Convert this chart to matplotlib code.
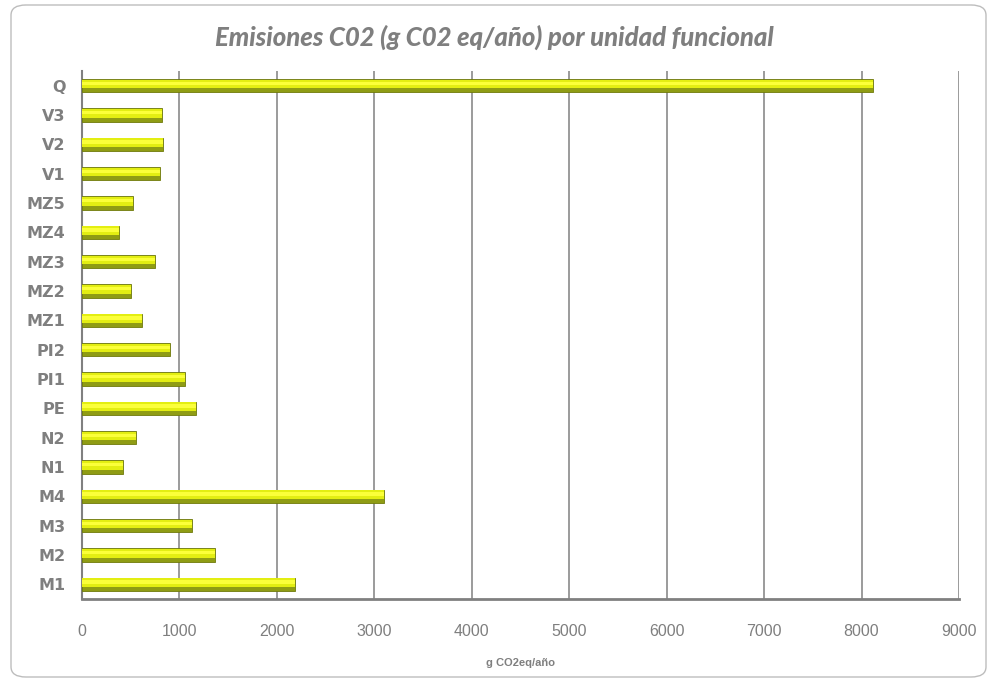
import matplotlib
matplotlib.use("Agg")
import matplotlib.pyplot as plt
from matplotlib.patches import FancyBboxPatch
import numpy as np

categories = ["M1", "M2", "M3", "M4", "N1", "N2", "PE", "PI1", "PI2",
              "MZ1", "MZ2", "MZ3", "MZ4", "MZ5", "V1", "V2", "V3", "Q"]
values = [2190, 1360, 1125, 3095, 425, 550, 1165, 1060, 905,
          620, 505, 745, 375, 520, 805, 835, 825, 8115]
xticks = [0, 1000, 2000, 3000, 4000, 5000, 6000, 7000, 8000, 9000]
title = "Emisiones C02 (g C02 eq/año) por unidad funcional"
xlabel = "g CO2eq/año"

W, H = 989, 681
fig = plt.figure(figsize=(W / 100, H / 100), dpi=100)
fig.patch.set_facecolor("white")

# rounded chart border
border = FancyBboxPatch((11 / W, 4 / H), (975) / W, (672) / H,
                        boxstyle="round,pad=0,rounding_size=0.015",
                        transform=fig.transFigure, fill=False,
                        edgecolor="#bdbdbd", linewidth=1.0)
fig.patches.append(border)

ax = fig.add_axes([82 / W, 1 - 599 / H, (959 - 82) / W, (599 - 71) / H])
y = np.arange(len(categories))
h = 0.46

# base (shadow / darker lower part)
ax.barh(y, values, height=h, color="#8f9c14", edgecolor="#6f7a0a",
        linewidth=0.6, zorder=3)
# bright upper face
ax.barh(y + h * 0.12, values, height=h * 0.64, color="#e3ee12",
        linewidth=0, zorder=4)
# highlight stripe
ax.barh(y + h * 0.17, values, height=h * 0.26, color="#fbff3a",
        linewidth=0, zorder=5)

ax.set_xlim(0, 9000)
ax.set_ylim(-0.5, len(categories) - 0.5)
ax.set_yticks(y)
ax.set_yticklabels(categories, fontsize=11.5, fontweight="bold",
                   color="#7f7f7f", family=["DejaVu Sans"])
ax.set_xticks(xticks)
ax.set_xticklabels([str(t) for t in xticks], fontsize=11.5, color="#7f7f7f",
                   family=["Liberation Sans Narrow", "Liberation Sans", "DejaVu Sans"])
ax.tick_params(axis="y", length=0, pad=12)
ax.tick_params(axis="x", length=0, pad=18)

ax.grid(axis="x", color="#8a8a8a", linewidth=1.2, zorder=0)
ax.set_axisbelow(True)
for s in ["top", "right"]:
    ax.spines[s].set_visible(False)
ax.spines["left"].set_color("#808080")
ax.spines["left"].set_linewidth(1.5)
ax.spines["bottom"].set_color("#808080")
ax.spines["bottom"].set_linewidth(2)

ax.set_xlabel(xlabel, fontsize=8, fontweight="bold", color="#7f7f7f",
              family=["Liberation Sans Narrow", "Liberation Sans", "DejaVu Sans"],
              labelpad=14)

fig.text(0.5, 1 - 37 / H, title, ha="center", va="center", fontsize=18.5,
         fontweight=900, style="italic", color="#7f7f7f",
         family=["Lato", "DejaVu Sans"])

fig.savefig("out.png", dpi=100)
